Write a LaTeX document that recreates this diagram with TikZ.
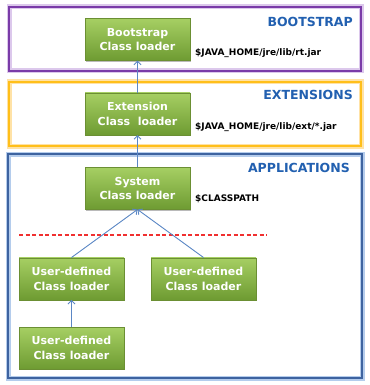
\documentclass[tikz,border=0pt]{standalone}
\usepackage{fontspec}
\setmainfont{DejaVu Sans}
\usetikzlibrary{positioning, arrows.meta, shadows}
\definecolor{loadertop}{HTML}{A6CF63}
\definecolor{loaderbot}{HTML}{6E9B32}
\definecolor{loaderedge}{HTML}{6B8F33}
\definecolor{bootline}{HTML}{7A3BA8}
\definecolor{bootglow}{HTML}{DCC8EC}
\definecolor{extline}{HTML}{FFBF1A}
\definecolor{extglow}{HTML}{FFE2A6}
\definecolor{appline}{HTML}{3D63A0}
\definecolor{appglow}{HTML}{B4CCEC}
\definecolor{heading}{HTML}{2260B0}
\definecolor{link}{HTML}{5B87C5}
\definecolor{redcut}{HTML}{F03030}

\begin{document}
\begin{tikzpicture}[
    x=1pt, y=-1pt,
    >={Straight Barb[length=3.5pt,width=7pt]},
    font=\bfseries,
    node distance=32pt and 27pt,
    loader/.style={
        draw=loaderedge,
        top color=loadertop, bottom color=loaderbot,
        text=white,
        align=center,
        font=\bfseries\fontsize{11}{14.5}\selectfont,
        minimum width=105pt,
        minimum height=42pt,
        inner sep=2pt,
        drop shadow={shadow xshift=1.2pt, shadow yshift=-1.2pt, fill=black!45, opacity=0.6}
    },
    tierbox/.style args={#1/#2}{
        draw=#1,
        line width=1.6pt,
        preaction={draw=#2, line width=5pt}
    },
    heading/.style={text=heading, font=\bfseries\fontsize{12.5}{14}\selectfont, anchor=east, inner sep=0pt},
    jarpath/.style={font=\bfseries\fontsize{9}{10}\selectfont, anchor=west, inner sep=0pt},
    link/.style={->, draw=link, line width=0.9pt},
    cutstyle/.style={draw=redcut, line width=1.1pt, dash pattern=on 4pt off 2.5pt}
]
\useasboundingbox (0,0) rectangle (369,385);

% layers
\draw[tierbox=bootline/bootglow] (9,7) rectangle (361,71);
\draw[tierbox=extline/extglow] (9,82) rectangle (361,146);
\draw[tierbox=appline/appglow] (8,154) rectangle (362,378);

\node[heading] (BootTag) at (353,22) {BOOTSTRAP};
\node[heading] (ExtTag) at (353,95) {EXTENSIONS};
\node[heading] (AppTag) at (350,168) {APPLICATIONS};

% loaders
\node[loader] (Boot) at (137.5,39.5) {Bootstrap\\Class loader};
\node[loader, below=of Boot] (Ext) {Extension\\Class\ \ loader};
\node[loader, below=of Ext] (Sys) {System\\Class loader};
\node[loader, below=48pt of Sys, xshift=-66pt] (UserA) {User-defined\\Class loader};
\node[loader, below=48pt of Sys, xshift=66pt] (UserB) {User-defined\\Class loader};
\node[loader, below=27pt of UserA] (UserC) {User-defined\\Class loader};

\node[jarpath] (BootJar) at (195,53) {\$JAVA\_HOME/jre/lib/rt.jar};
\node[jarpath] (ExtJar) at (195,127) {\$JAVA\_HOME/jre/lib/ext/*.jar};
\node[jarpath] (SysJar) at (195,199) {\$CLASSPATH};

\coordinate (cutL) at (19,235);
\coordinate (cutR) at (267,235);
\draw[cutstyle] (cutL) -- (cutR);

\draw[link] (Ext) -- (Boot);
\draw[link] (Sys) -- (Ext);
\draw[link] (UserA.north) -- (Sys.south);
\draw[link] (UserB.north) -- (Sys.south);
\draw[link] (UserC) -- (UserA);

\end{tikzpicture}
\end{document}
